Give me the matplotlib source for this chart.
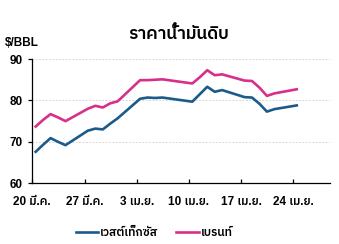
import numpy as np
import matplotlib
matplotlib.use('Agg')
import matplotlib.pyplot as plt

plt.rcParams['font.family'] = ['Liberation Sans', 'IBM Plex Sans Thai']

# days since 20 Mar (trading days)
days = np.array([0, 1, 2, 3, 4, 7, 8, 9, 10, 11, 14, 15, 16, 17,
                 21, 22, 23, 24, 25, 28, 29, 30, 31, 32, 35])
wti = np.array([67.6, 69.3, 70.9, 70.0, 69.2, 72.7, 73.2, 73.0, 74.4, 75.7,
                80.4, 80.7, 80.6, 80.7, 79.7, 81.5, 83.3, 82.1, 82.5,
                80.8, 80.7, 79.2, 77.3, 77.9, 78.8])
brent = np.array([73.7, 75.3, 76.7, 75.9, 75.0, 78.0, 78.7, 78.3, 79.3, 79.8,
                  84.9, 84.9, 85.0, 85.1, 84.1, 85.6, 87.3, 86.1, 86.3,
                  84.8, 84.7, 83.1, 81.1, 81.7, 82.7])
tick_days = [0, 7, 14, 21, 28, 35]
tick_labels = ['20 มี.ค.', '27 มี.ค.', '3 เม.ย.', '10 เม.ย.', '17 เม.ย.', '24 เม.ย.']
names = ['เวสต์เท็กซัส', 'เบรนท์']

fig = plt.figure(figsize=(3.39, 2.44), dpi=100)
ax = fig.add_axes([0.0953, 0.249, 0.878, 0.509])

ax.plot(days + 0.45, wti, color='#1b5b8c', lw=1.9, label=names[0])
ax.plot(days + 0.45, brent, color='#d6308b', lw=1.9, label=names[1])

ax.set_xlim(0, 39.9)
ax.set_ylim(60, 90)
ax.set_yticks([60, 70, 80, 90])
ax.set_xticks(tick_days)
ax.set_xticklabels(tick_labels)
for y in [70, 80, 90]:
    ax.axhline(y, color='#cccccc', lw=0.6, ls=(0, (2, 2)), zorder=0)

for s in ['top', 'right']:
    ax.spines[s].set_visible(False)
for s in ['left', 'bottom']:
    ax.spines[s].set_linewidth(0.9)
ax.tick_params(axis='x', direction='in', length=3, width=0.9, pad=9, labelsize=8.5)
ax.tick_params(axis='y', direction='out', length=3, width=0.9, pad=4, labelsize=8.5)
for t in ax.get_xticklabels() + ax.get_yticklabels():
    t.set_fontweight('semibold')

fig.text(0.527, 0.862, 'ราคาน้ำมันดิบ', ha='center', va='center', fontsize=12.5, fontweight='semibold')
fig.text(0.015, 0.825, '$/BBL', ha='left', va='center', fontsize=8.5, fontweight='bold')

leg = fig.legend(loc='center', bbox_to_anchor=(0.455, 0.045), ncol=2, frameon=False,
                 fontsize=8.5, handlelength=1.9, handletextpad=0.2, columnspacing=1.5)
for t in leg.get_texts():
    t.set_fontweight('semibold')

fig.savefig('out.png', dpi=100)
